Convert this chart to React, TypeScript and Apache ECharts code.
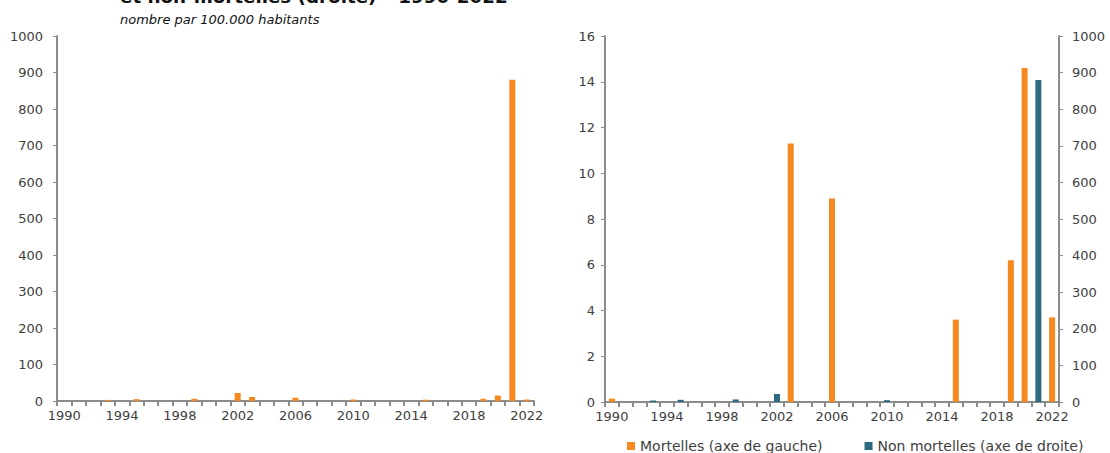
import React, { useEffect, useRef } from "react";
import * as echarts from "echarts";

const years: string[] = [];
for (let y = 1990; y <= 2022; y++) years.push(String(y));

// Left chart: total per 100.000 inhabitants
const totalValues = [
  0.15, 0, 0, 3, 0, 5, 0, 0, 0, 6, 0, 0, 22, 11, 0, 0, 9, 0, 0, 0, 4, 0, 0, 0, 0, 3.6, 0, 0, 0, 6, 15, 880, 4,
];
// Right chart: Mortelles (left axis)
const mortellesValues = [
  0.15, 0, 0, 0, 0, 0, 0, 0, 0, 0, 0, 0, 0, 11.3, 0, 0, 8.9, 0, 0, 0, 0, 0, 0, 0, 0, 3.6, 0, 0, 0, 6.2, 14.6, 0, 3.7,
];
// Right chart: Non mortelles (right axis)
const nonMortellesValues = [
  0, 0, 0, 4, 0, 6, 0, 0, 0, 7, 0, 0, 22, 0, 0, 0, 0, 0, 0, 0, 5, 0, 0, 0, 0, 0, 0, 0, 0, 0, 0, 880, 0,
];

const titleText = "et non-mortelles (droite) \u2013 1990-2022";
const subtitleText = "nombre par 100.000 habitants";
const seriesNames = ["Mortelles (axe de gauche)", "Non mortelles (axe de droite)"];

const ORANGE = "#F7881F";
const TEAL = "#2E6B80";
const AXIS = "#8C8C8C";
const LABEL = "#404040";
const FONT = "DejaVu Sans";

function App() {
  const ref = useRef<HTMLDivElement>(null);
  useEffect(() => {
    if (!ref.current) return;
    const chart = echarts.init(ref.current, null, { renderer: "svg" });
    const xAxisBase = (gridIndex: number) => ({
      type: "category",
      gridIndex,
      data: years,
      boundaryGap: true,
      axisLine: { show: true, lineStyle: { color: AXIS, width: 2 } },
      axisTick: { show: true, interval: 0, length: 5, lineStyle: { color: AXIS, width: 2 } },
      axisLabel: { interval: 3, color: LABEL, fontSize: 13, fontFamily: FONT, margin: 8 },
      splitLine: { show: false },
    });
    const yAxisBase = (gridIndex: number, max: number, interval: number, position: string, margin: number) => ({
      type: "value",
      gridIndex,
      min: 0,
      max,
      interval,
      position,
      axisLine: { show: true, lineStyle: { color: AXIS, width: 2 } },
      axisTick: { show: true, length: 4, lineStyle: { color: AXIS, width: 1 } },
      axisLabel: {
        color: LABEL,
        fontSize: 13,
        fontFamily: FONT,
        margin,
        formatter: (v: number) => String(v),
      },
      splitLine: { show: false },
    });
    chart.setOption({
      animation: false,
      textStyle: { fontFamily: FONT },
      grid: [
        { left: 57, top: 36, width: 477, height: 365 },
        { left: 605, top: 36, width: 454, height: 366 },
      ],
      xAxis: [xAxisBase(0), xAxisBase(1)],
      yAxis: [
        yAxisBase(0, 1000, 100, "left", 14),
        yAxisBase(1, 16, 2, "left", 10),
        yAxisBase(1, 1000, 100, "right", 13),
      ],
      legend: {
        data: seriesNames,
        left: 622,
        top: 434,
        icon: "rect",
        itemWidth: 8,
        itemHeight: 8,
        itemGap: 42,
        textStyle: { color: LABEL, fontSize: 14, fontFamily: FONT },
      },
      series: [
        {
          name: "Total",
          type: "bar",
          xAxisIndex: 0,
          yAxisIndex: 0,
          data: totalValues,
          barWidth: 6,
          itemStyle: { color: ORANGE },
        },
        {
          name: seriesNames[0],
          type: "bar",
          xAxisIndex: 1,
          yAxisIndex: 1,
          data: mortellesValues,
          barWidth: 6,
          barGap: "-100%",
          itemStyle: { color: ORANGE },
        },
        {
          name: seriesNames[1],
          type: "bar",
          xAxisIndex: 1,
          yAxisIndex: 2,
          data: nonMortellesValues,
          barWidth: 6,
          barGap: "-100%",
          itemStyle: { color: TEAL },
        },
      ],
      graphic: [
        {
          type: "text",
          left: 120,
          top: -13,
          style: {
            text: titleText,
            fontSize: 18.3,
            fontWeight: "bold",
            fontFamily: FONT,
            fill: "#111",
          },
        },
        {
          type: "text",
          left: 120,
          top: 13,
          style: {
            text: subtitleText,
            fontSize: 13,
            fontStyle: "italic",
            fontFamily: FONT,
            fill: "#111",
          },
        },
      ],
    });
    return () => chart.dispose();
  }, []);
  return (
    <div
      ref={ref}
      style={{ position: "fixed", left: 0, top: 0, width: 1110, height: 453, background: "#fff" }}
    />
  );
}

export default App;
